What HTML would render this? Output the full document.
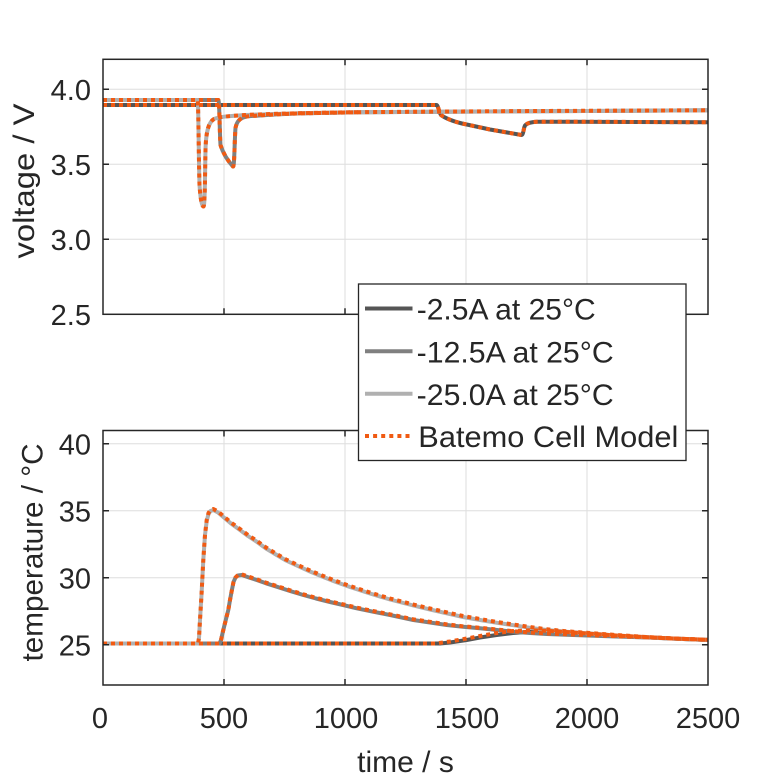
<!DOCTYPE html>
<html><head><meta charset="utf-8"><style>
html,body{margin:0;padding:0;background:#fff;}
svg{display:block;}
text{font-family:"Liberation Sans",Arial,sans-serif;fill:#262626;}
</style></head><body>
<svg width="781" height="781" viewBox="0 0 781 781" xmlns="http://www.w3.org/2000/svg">
<defs>
<clipPath id="c1"><rect x="103" y="59" width="605" height="255.5"/></clipPath>
<clipPath id="c2"><rect x="103" y="430.5" width="605" height="254.5"/></clipPath>
</defs>
<rect width="781" height="781" fill="#fff"/>

<!-- grids top -->
<g stroke="#dedede" stroke-width="1">
<line x1="224" y1="59" x2="224" y2="314.3"/><line x1="345" y1="59" x2="345" y2="314.3"/>
<line x1="466" y1="59" x2="466" y2="314.3"/><line x1="587" y1="59" x2="587" y2="314.3"/>
<line x1="103" y1="89.3" x2="708" y2="89.3"/><line x1="103" y1="164.3" x2="708" y2="164.3"/>
<line x1="103" y1="239.3" x2="708" y2="239.3"/>
<!-- grids bottom -->
<line x1="224" y1="430.5" x2="224" y2="685"/><line x1="345" y1="430.5" x2="345" y2="685"/>
<line x1="466" y1="430.5" x2="466" y2="685"/><line x1="587" y1="430.5" x2="587" y2="685"/>
<line x1="103" y1="443.8" x2="708" y2="443.8"/><line x1="103" y1="510.8" x2="708" y2="510.8"/>
<line x1="103" y1="577.8" x2="708" y2="577.8"/><line x1="103" y1="644.8" x2="708" y2="644.8"/>
</g>

<!-- voltage curves -->
<g clip-path="url(#c1)" fill="none" stroke-width="4" stroke-linejoin="round">
<path id="v2" stroke="#555555" d="M103,105 L436.5,105 C438,105 439,112 441,115 C445,118 452,121 462,123.5 L490,129.5 L521.5,135 C523.5,135 523.5,128 525,125.5 C527,123 531,122 537,121.7 L573,121.7 L708,122.3"/>
<path stroke="#808080" d="M103,100 L218.3,100 C219.5,100 219.5,130 220.5,145 C223,153 228,161 233,166.5 C234.5,167 234.5,140 235.5,128 C237,120 241,117.5 248,116.3 C260,115.3 280,114 300,113.4 L360,112.2 C450,111.4 560,110.8 708,110.3"/>
<path stroke="#b0b0b0" d="M103,100 L197.5,100 C198.5,100 198.5,150 199.5,185 C200.5,200 202,206.5 203.5,206.5 C205,206.5 205,170 205.5,150 C206,130 209,122 214,119 C220,116.5 230,116 245,115 C280,113.5 320,112.6 360,112.2 C450,111.4 560,110.8 708,110.3"/>
<g stroke="#f05a12" stroke-dasharray="4 4">
<path d="M103,105 L436.5,105 C438,105 439,112 441,115 C445,118 452,121 462,123.5 L490,129.5 L521.5,135 C523.5,135 523.5,128 525,125.5 C527,123 531,122 537,121.7 L573,121.7 L708,122.3"/>
<path d="M103,100 L218.3,100 C219.5,100 219.5,130 220.5,145 C223,153 228,161 233,166.5 C234.5,167 234.5,140 235.5,128 C237,120 241,117.5 248,116.3 C260,115.3 280,114 300,113.4 L360,112.2 C450,111.4 560,110.8 708,110.3"/>
<path d="M103,100 L197.5,100 C198.5,100 198.5,150 199.5,185 C200.5,200 202,206.5 203.5,206.5 C205,206.5 205,170 205.5,150 C206,130 209,122 214,119 C220,116.5 230,116 245,115 C280,113.5 320,112.6 360,112.2"/>
</g>
</g>

<!-- temperature curves -->
<g clip-path="url(#c2)" fill="none" stroke-width="4" stroke-linejoin="round">
<polyline stroke="#555555" points="103,643.5 440,643.5 450,642.5 466.7,640 480,637.5 496.7,635 513,633 530,631.8 546.7,631.5 566,632.5 586.7,634 616,635.8 646.7,637.3 677,638.8 708,640"/>
<polyline stroke="#808080" points="103,643.5 219.5,643.5 221,640 223.3,630 226,619 228.3,610 230,600 231.7,591 233.5,582 235.5,577.5 238,575.5 241.7,575 249,577.5 256.7,580 266,583.3 276.7,586.7 290,591 303.3,595 316,598.5 330,602 343,605 356.7,608.3 373,611.7 390,615 413.3,620 430,622.5 446.7,625 463,626.8 480,628.3 497,630 513.3,631.7 530,633 546.7,634 566,634.8 586.7,635.5 616,636.5 646.7,637.5 677,638.8 708,640"/>
<polyline stroke="#b0b0b0" points="103,643.5 198,643.5 199,638 200,620 201.5,595 203.3,560 205,535 206.7,521 208.5,514 210.5,511 213.3,510 218,512.5 223.3,517 231,523.5 240,530 248,536 256.7,541.7 266,548.5 276.7,555 286,560.5 296.7,565.5 310,571.5 323.3,577 336,582 350,587 370,593.5 390,599.5 413.3,605.5 430,609.5 446.7,613.3 463,617 480,620 497,622.8 513.3,625.2 530,627.8 546.7,630 566,631.8 586.7,633.3 616,635.5 646.7,637.3 677,638.8 708,640"/>
<g stroke="#f05a12" stroke-dasharray="4 4">
<polyline points="103,643.5 435,643.5 450,641.5 466.7,638.5 480,636 496.7,633 513,631 530,630.3 546.7,630.8 566,632 586.7,633.5 616,635.5 646.7,637.2 677,638.7 708,639.8"/>
<polyline points="103,643.5 219.5,643.5 221,640 223.3,630 226,619 228.3,610 230,600 231.7,591 233.5,582 235.5,577.5 238,575 241.7,574.3 249,576.8 256.7,579.3 266,582.6 276.7,586 290,590.3 303.3,594.3 316,597.8 330,601.3 343,604.3 356.7,607.6 373,611 390,614.3 413.3,619.3 430,621.8 446.7,624.3 463,626.3 480,627.8 497,629.5 513.3,631.2 530,632.5 546.7,633.5 566,634.3 586.7,635 616,636.2 646.7,637.3 677,638.6 708,639.8"/>
<polyline points="103,643.5 198,643.5 199,638 200,620 201.5,595 203.3,560 205,535 206.7,520 208.5,513 210.5,510 213.3,509 218,511.5 223.3,516 231,522.5 240,529 248,535 256.7,540.7 266,547.5 276.7,554 286,559.5 296.7,564.5 310,570.5 323.3,576 336,581 350,586 370,592.5 390,598.5 413.3,604.5 430,608.5 446.7,612.3 463,616 480,619 497,622 513.3,624.5 530,627 546.7,629.3 566,631.2 586.7,632.8 616,635 646.7,637 677,638.6 708,639.8"/>
</g>
</g>

<!-- axes boxes and ticks -->
<g stroke="#262626" stroke-width="1.5" fill="none">
<rect x="103" y="59.3" width="605" height="255"/>
<rect x="103" y="430.5" width="605" height="254.5"/>
<path d="M224,59.3v6M345,59.3v6M466,59.3v6M587,59.3v6
M224,314.3v-6M345,314.3v-6M466,314.3v-6M587,314.3v-6
M103,89.3h6M103,164.3h6M103,239.3h6
M708,89.3h-6M708,164.3h-6M708,239.3h-6
M224,430.5v6M345,430.5v6M466,430.5v6M587,430.5v6
M224,685v-6M345,685v-6M466,685v-6M587,685v-6
M103,443.8h6M103,510.8h6M103,577.8h6M103,644.8h6
M708,443.8h-6M708,510.8h-6M708,577.8h-6M708,644.8h-6"/>
</g>

<!-- tick labels -->
<g font-size="29" text-anchor="end">
<text x="91" y="100">4.0</text>
<text x="91" y="175">3.5</text>
<text x="91" y="250">3.0</text>
<text x="91" y="325">2.5</text>
<text x="91" y="454.5">40</text>
<text x="91" y="521.5">35</text>
<text x="91" y="588.5">30</text>
<text x="91" y="655.5">25</text>
</g>
<g font-size="29" text-anchor="middle">
<text x="100" y="728">0</text>
<text x="224" y="728">500</text>
<text x="346" y="728">1000</text>
<text x="467" y="728">1500</text>
<text x="587" y="728">2000</text>
<text x="708" y="728">2500</text>
</g>
<text x="405.5" y="772" font-size="30" text-anchor="middle">time / s</text>
<text transform="translate(34,181) rotate(-90)" font-size="30" text-anchor="middle" textLength="155" lengthAdjust="spacingAndGlyphs">voltage / V</text>
<text transform="translate(42.5,552.5) rotate(-90)" font-size="30" text-anchor="middle" textLength="218" lengthAdjust="spacingAndGlyphs">temperature / °C</text>

<!-- legend -->
<rect x="358.5" y="284" width="327.5" height="176.5" fill="#fff" stroke="#262626" stroke-width="1.3"/>
<g stroke-width="4">
<line x1="365" y1="308.5" x2="412.5" y2="308.5" stroke="#555555"/>
<line x1="365" y1="351.3" x2="412.5" y2="351.3" stroke="#808080"/>
<line x1="365" y1="393.8" x2="412.5" y2="393.8" stroke="#b0b0b0"/>
<line x1="365" y1="436" x2="412.5" y2="436" stroke="#f05a12" stroke-dasharray="4 4.1"/>
</g>
<g font-size="30" style="fill:#000">
<text x="416.7" y="319.5" textLength="179" lengthAdjust="spacingAndGlyphs">-2.5A at 25°C</text>
<text x="416.7" y="362.3" textLength="197" lengthAdjust="spacingAndGlyphs">-12.5A at 25°C</text>
<text x="416.7" y="404.8" textLength="197" lengthAdjust="spacingAndGlyphs">-25.0A at 25°C</text>
<text x="418.3" y="447" textLength="260" lengthAdjust="spacingAndGlyphs">Batemo Cell Model</text>
</g>
</svg>
</body></html>
